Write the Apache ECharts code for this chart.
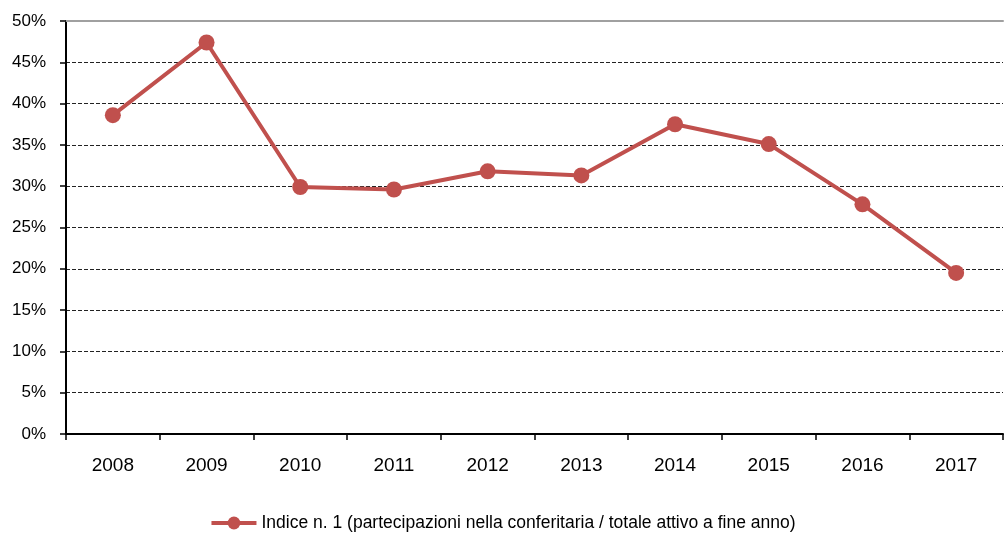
<!DOCTYPE html>
<html>
<head>
<meta charset="utf-8">
<script src="https://cdn.jsdelivr.net/npm/echarts@6/dist/echarts.min.js"></script>
<style>
    html, body { margin: 0; padding: 0; background: #fff; }
    #div_chart { width: 1005px; height: 533px; }
</style>
</head>
<body>
<div id="div_chart"></div>
<script>
// dati
var anni = ['2008', '2009', '2010', '2011', '2012', '2013', '2014', '2015', '2016', '2017'];
var indice1 = [38.6, 47.4, 29.9, 29.6, 31.8, 31.3, 37.5, 35.1, 27.8, 19.5];
var nomeSerie = 'Indice n. 1 (partecipazioni nella conferitaria / totale attivo a fine anno)';

var fontFam = '"Liberation Sans", Arial, sans-serif';

var myChart = echarts.init(document.getElementById('div_chart'));
var option = {
    animation: false,
    textStyle: { fontFamily: fontFam },
    legend: {
        bottom: -4,
        left: 'center',
        itemWidth: 45,
        itemHeight: 16,
        itemGap: 4,
        lineStyle: { width: 4 },
        textStyle: { fontSize: 17.5, color: '#000', fontFamily: fontFam },
        data: [nomeSerie]
    },
    grid: {
        left: 66,
        right: 2,
        top: 21,
        bottom: 99
    },
    xAxis: [{
        type: 'category',
        data: anni,
        boundaryGap: true,
        axisLine: { lineStyle: { color: '#000', width: 2 } },
        axisTick: { show: true, length: 6, lineStyle: { color: '#000', width: 1.5 } },
        axisLabel: { color: '#000', fontSize: 19, margin: 22 }
    }, {
        type: 'category',
        data: anni,
        position: 'top',
        axisLine: { show: true, lineStyle: { color: '#a0a0a0', width: 2 } },
        axisTick: { show: false },
        axisLabel: { show: false }
    }],
    yAxis: {
        type: 'value',
        min: 0,
        max: 50,
        interval: 5,
        axisLine: { show: true, lineStyle: { color: '#000', width: 2 } },
        axisTick: { show: true, length: 6, lineStyle: { color: '#000', width: 1.5 } },
        axisLabel: {
            color: '#000',
            fontSize: 17,
            margin: 20,
            formatter: '{value}%'
        },
        splitLine: {
            lineStyle: { color: '#222', type: [4, 2], width: 1 }
        }
    },
    series: [{
        name: nomeSerie,
        type: 'line',
        data: indice1,
        symbol: 'circle',
        symbolSize: 16,
        itemStyle: { color: '#C0504D' },
        lineStyle: { color: '#C0504D', width: 4 }
    }]
};
myChart.setOption(option);
</script>
</body>
</html>
